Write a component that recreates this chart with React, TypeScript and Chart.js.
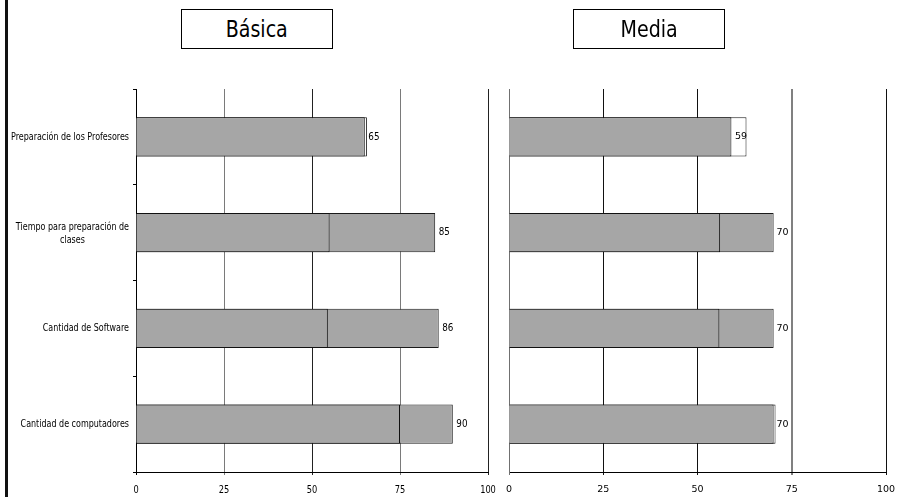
import React, { useEffect, useRef } from "react";
import { Chart, registerables } from "chart.js";

Chart.register(...registerables);

// ---- data ----
const categories: (string | string[])[] = [
  "Preparación de los Profesores",
  ["Tiempo para preparación de", "clases"],
  "Cantidad de Software",
  "Cantidad de computadores",
];
const xTickValues = [0, 25, 50, 75, 100];

const basicaFront = [65, 55, 54.5, 75];
const basicaBack = [65.6, 85, 86, 90];
const basicaLabels = [65, 85, 86, 90];

const mediaFront = [59, 56, 55.8, 70.2];
const mediaBack = [63, 70.2, 70.2, 70.7];
const mediaLabels = [59, 70, 70, 70];

// ---- styles ----
const GRAY = "#a6a6a6";
const WHITE = "#ffffff";
const basicaBackColors = [WHITE, GRAY, GRAY, GRAY];
const mediaBackColors = [WHITE, GRAY, GRAY, WHITE];

const SANS = '"DejaVu Sans", Verdana, sans-serif';

type GridStyle = Record<number, { color: string; width: number }>;

type PanelProps = {
  left: number;
  width: number;
  plotLeft: number;
  plotRight: number;
  front: number[];
  back: number[];
  backColors: string[];
  labels: number[];
  grid: GridStyle;
  tickSize: number;
  tickSqueeze: number;
  valueSize: number;
  valueSqueeze: number;
  showCategories: boolean;
  axisColor: string;
  yTicks: boolean;
};

function Panel(p: PanelProps) {
  const ref = useRef<HTMLCanvasElement | null>(null);
  useEffect(() => {
    const canvas = ref.current!;
    const H = 497;
    const padRight = p.left + p.width - p.plotRight;

    const valuePlugin = {
      id: "valueLabels",
      afterDatasetsDraw(chart: any) {
        const ctx = chart.ctx;
        const xs = chart.scales.x;
        const ys = chart.scales.y;
        ctx.save();
        ctx.fillStyle = "#000";
        ctx.font = `${p.valueSize}px ${SANS}`;
        ctx.textAlign = "left";
        ctx.textBaseline = "middle";
        p.labels.forEach((v, i) => {
          const x = xs.getPixelForValue(v) + 3.5;
          const y = ys.getPixelForValue(i);
          ctx.save();
          ctx.translate(x, y);
          ctx.scale(p.valueSqueeze, 1);
          ctx.fillText(String(v), 0, 0);
          ctx.restore();
        });
        ctx.restore();
      },
    };

    const tickPlugin = {
      id: "xTickLabels",
      afterDraw(chart: any) {
        const ctx = chart.ctx;
        const xs = chart.scales.x;
        const y = chart.chartArea.bottom + 18;
        ctx.save();
        ctx.fillStyle = "#000";
        ctx.font = `${p.tickSize}px ${SANS}`;
        ctx.textAlign = "center";
        ctx.textBaseline = "middle";
        xTickValues.forEach((v) => {
          const x = xs.getPixelForValue(v);
          ctx.save();
          ctx.translate(x, y);
          ctx.scale(p.tickSqueeze, 1);
          ctx.fillText(String(v), 0, 0);
          ctx.restore();
        });
        ctx.restore();
      },
    };

    const catPlugin = {
      id: "catLabels",
      afterDraw(chart: any) {
        if (!p.showCategories) return;
        const ctx = chart.ctx;
        const ys = chart.scales.y;
        const rightEdge = chart.chartArea.left - 7;
        ctx.save();
        ctx.fillStyle = "#000";
        ctx.font = `10.5px ${SANS}`;
        ctx.textBaseline = "middle";
        ctx.textAlign = "center";
        const ref0 = ctx.measureText("Preparación de los Profesores").width;
        const k = 118 / ref0;
        categories.forEach((c, i) => {
          const lines = Array.isArray(c) ? c : [c];
          const w = Math.max(...lines.map((l) => ctx.measureText(l).width));
          const cy = ys.getPixelForValue(i);
          const lh = 13;
          const y0 = cy - ((lines.length - 1) * lh) / 2 + (lines.length > 1 ? 1.5 : 0);
          ctx.save();
          ctx.translate(rightEdge, 0);
          ctx.scale(k, 1);
          lines.forEach((l, j) => ctx.fillText(l, -w / 2, y0 + j * lh));
          ctx.restore();
        });
        ctx.restore();
      },
    };

    const chart = new Chart(canvas, {
      type: "bar",
      data: {
        labels: categories.map((c) => (Array.isArray(c) ? c.join(" ") : c)),
        datasets: [
          {
            data: p.front,
            backgroundColor: GRAY,
            borderColor: "#111",
            borderWidth: 1,
            grouped: false,
            barPercentage: 0.41,
            categoryPercentage: 1,
          } as any,
          {
            data: p.back,
            backgroundColor: p.backColors,
            borderColor: "#1a1a1a",
            borderWidth: 1,
            grouped: false,
            barPercentage: 0.41,
            categoryPercentage: 1,
          } as any,
        ],
      },
      options: {
        indexAxis: "y",
        responsive: false,
        animation: false,
        layout: { padding: { top: 89, right: padRight, left: 0, bottom: 0 } },
        plugins: {
          legend: { display: false },
          tooltip: { enabled: false },
          title: { display: false },
        },
        scales: {
          x: {
            min: 0,
            max: 100,
            afterBuildTicks: (s: any) => {
              s.ticks = xTickValues.map((v) => ({ value: v }));
            },
            ticks: {
              display: false,
            },
            grid: {
              color: (c: any) => (p.grid[c.tick?.value]?.color ?? "#808080"),
              lineWidth: (c: any) => (p.grid[c.tick?.value]?.width ?? 1),
              tickLength: 3,
              drawTicks: true,
            },
            border: { display: true, color: "#000", width: 1 },
            afterFit: (s: any) => {
              s.height = H - 472;
              s.paddingLeft = 0;
              s.paddingRight = 0;
            },
          },
          y: {
            ticks: { display: false },
            grid: {
              display: p.yTicks,
              drawOnChartArea: false,
              drawTicks: true,
              tickLength: 3,
              color: "#000",
              offset: true,
            },
            border: { display: true, color: p.axisColor, width: 1 },
            afterFit: (s: any) => {
              s.width = p.plotLeft - p.left;
              s.paddingTop = 0;
              s.paddingBottom = 0;
            },
          },
        },
      } as any,
      plugins: [valuePlugin, tickPlugin, catPlugin],
    });
    return () => chart.destroy();
  }, []);
  return (
    <canvas
      ref={ref}
      width={p.width}
      height={497}
      style={{ position: "absolute", left: p.left, top: 0, width: p.width, height: 497 }}
    />
  );
}

function TitleBox({ left, text }: { left: number; text: string }) {
  return (
    <div
      style={{
        position: "absolute",
        left,
        top: 9,
        width: 152,
        height: 40,
        boxSizing: "border-box",
        border: "1px solid #000",
        background: "#fff",
        display: "flex",
        alignItems: "center",
        justifyContent: "center",
        fontFamily: '"DejaVu Sans Condensed", "DejaVu Sans", sans-serif',
        fontSize: 23,
        color: "#000",
      }}
    >
      <span style={{ display: "inline-block", transform: "scaleX(0.92)" }}>{text}</span>
    </div>
  );
}

export default function App() {
  return (
    <div
      style={{
        position: "fixed",
        left: 0,
        top: 0,
        width: 899,
        height: 497,
        background: "#fff",
        overflow: "hidden",
      }}
    >
      <div style={{ position: "absolute", left: 5, top: 0, width: 3, height: 497, background: "#111" }} />
      <Panel
        left={0}
        width={500}
        plotLeft={136}
        plotRight={488}
        front={basicaFront}
        back={basicaBack}
        backColors={basicaBackColors}
        labels={basicaLabels}
        grid={{
          0: { color: "#000", width: 1 },
          25: { color: "#7a7a7a", width: 1 },
          50: { color: "#222", width: 1 },
          75: { color: "#7a7a7a", width: 1 },
          100: { color: "#222", width: 1 },
        }}
        tickSize={11}
        tickSqueeze={0.75}
        valueSize={11}
        valueSqueeze={0.8}
        showCategories={true}
        axisColor="#000"
        yTicks={true}
      />
      <Panel
        left={498}
        width={401}
        plotLeft={509}
        plotRight={886}
        front={mediaFront}
        back={mediaBack}
        backColors={mediaBackColors}
        labels={mediaLabels}
        grid={{
          0: { color: "#707070", width: 1 },
          25: { color: "#111", width: 1 },
          50: { color: "#111", width: 1 },
          75: { color: "#808080", width: 2 },
          100: { color: "#111", width: 1 },
        }}
        tickSize={9.5}
        tickSqueeze={1}
        valueSize={9.5}
        valueSqueeze={1}
        showCategories={false}
        axisColor="#707070"
        yTicks={false}
      />
      <TitleBox left={181} text="Básica" />
      <TitleBox left={573} text="Media" />
    </div>
  );
}
